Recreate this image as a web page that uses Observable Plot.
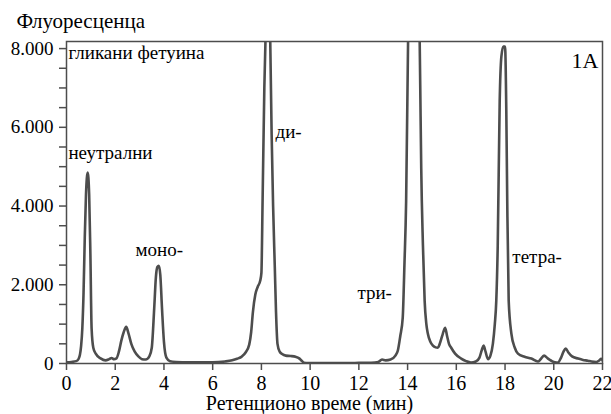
<!DOCTYPE html>
<html>
<head>
<meta charset="utf-8">
<script src="https://cdn.jsdelivr.net/npm/d3@7"></script>
<script src="https://cdn.jsdelivr.net/npm/@observablehq/plot@0.6"></script>
</head>
<body style="margin:0;padding:0;background:#fff">
<div id="chart"></div>
<script>
// Retention time (min)
const time = [
  0, 0.2, 0.4, 0.5, 0.6, 0.65, 0.7, 0.75, 0.8, 0.87, 0.93, 0.98, 1.03, 1.1, 1.2, 1.4, 1.6, 1.75, 1.85, 1.95,
  2.05, 2.15, 2.25, 2.35, 2.45, 2.55, 2.66, 2.8, 2.95, 3.1, 3.25, 3.4, 3.5, 3.6, 3.67, 3.73, 3.79, 3.85, 3.92, 4.0,
  4.1, 4.25, 4.5, 5, 5.5, 6, 6.5, 6.8, 7.0, 7.2, 7.35, 7.5, 7.58, 7.65, 7.75, 7.85, 7.95, 8.0, 8.05, 8.12,
  8.2, 8.29, 8.36, 8.42, 8.48, 8.55, 8.6, 8.66, 8.75, 8.85, 9.0, 9.2, 9.4, 9.55, 9.65, 9.75, 9.9, 10.5, 11, 11.5,
  12, 12.5, 12.8, 12.95, 13.1, 13.3, 13.5, 13.6, 13.7, 13.8, 13.87, 13.94, 14.02, 14.1, 14.25, 14.4, 14.47, 14.52, 14.56, 14.63,
  14.7, 14.77, 14.83, 14.93, 15.04, 15.15, 15.24, 15.32, 15.42, 15.54, 15.62, 15.7, 15.79, 15.95, 16.2, 16.4, 16.6, 16.8, 16.95, 17.05,
  17.12, 17.2, 17.3, 17.4, 17.5, 17.58, 17.64, 17.7, 17.78, 17.85, 17.93, 18.0, 18.05, 18.09, 18.15, 18.26, 18.4, 18.53, 18.8, 19.08,
  19.35, 19.45, 19.6, 19.75, 19.9, 20.05, 20.17, 20.3, 20.4, 20.49, 20.6, 20.75, 21.0, 21.2, 21.4, 21.55, 21.75, 21.85, 21.95, 22.0
];
// Fluorescence signal
const fluor = [
  30, 40, 60, 120, 450, 900, 1800, 3200, 4300, 4850, 4300, 2800, 900, 400, 250, 130, 80, 110, 140, 110,
  130, 300, 580, 800, 930, 750, 500, 300, 180, 110, 100, 180, 400, 1400, 2200, 2450, 2480, 2250, 1400, 550,
  150, 60, 40, 30, 30, 30, 50, 80, 120, 180, 280, 480, 800, 1300, 1750, 1950, 2100, 2300, 4200, 7000,
  9000, 12000, 8300, 5820, 4000, 2440, 1300, 500, 300, 240, 200, 190, 170, 130, 70, 20, 10, 10, 10, 10,
  15, 20, 40, 100, 80, 100, 200, 330, 700, 1160, 2500, 4120, 8200, 11000, 13500, 12500, 9500, 7000, 4960, 3000,
  1590, 1000, 760, 560, 455, 410, 400, 500, 700, 910, 700, 500, 400, 250, 125, 60, 25, 50, 150, 350,
  455, 300, 110, 200, 500, 1000, 1590, 3000, 6650, 7800, 8050, 8050, 6500, 4120, 1590, 760, 400, 250, 170, 125,
  50, 100, 200, 130, 70, 30, 25, 150, 300, 380, 280, 180, 125, 90, 70, 50, 40, 70, 120, 80
];
const xTicks = [0, 2, 4, 6, 8, 10, 12, 14, 16, 18, 20, 22];
const yTicks = [0, 500, 1000, 1500, 2000, 2500, 3000, 3500, 4000, 4500, 5000, 5500, 6000, 6500, 7000, 7500, 8000];
const yLabelTicks = [0, 2000, 4000, 6000, 8000];

// Peak annotations (in data coordinates)
const peakLabels = ["гликани фетуина", "неутрални", "моно-", "ди-", "три-", "тетра-"];
const peakLabelT = [0.08, 0.08, 2.83, 8.58, 11.94, 18.3];
const peakLabelV = [7747, 5207, 2743, 5740, 1651, 2565];
const panelLabel = "1А";
const yTitle = "Флуоресценца";
const xTitle = "Ретенционо време (мин)";

const rows = time.map((t, i) => ({t, v: fluor[i]}));
const annos = peakLabels.map((s, i) => ({s, t: peakLabelT[i], v: peakLabelV[i]}));
const fmt = d => d === 0 ? "0" : d3.format(",")(d).replace(/,/g, ".");

const FONT = "Liberation Serif";
const ink = "#4d4d4d";
const chart = Plot.plot({
  width: 611,
  height: 414,
  marginLeft: 66,
  marginRight: 9,
  marginTop: 41,
  marginBottom: 51,
  style: {fontFamily: FONT, fontSize: "19px", color: "#000", background: "#fff"},
  x: {domain: [0, 22]},
  y: {domain: [0, 8180]},
  marks: [
    Plot.axisX({ticks: xTicks, tickSize: 7, tickPadding: 5, fontSize: 20, fontFamily: FONT, label: null, stroke: ink, strokeWidth: 1.5, tickFormat: d => String(d)}),
    Plot.axisY({ticks: yTicks, tickSize: 7, tickPadding: 6, fontSize: 19, fontFamily: FONT, label: null, stroke: ink, strokeWidth: 1.5,
      tickFormat: d => yLabelTicks.includes(d) ? fmt(d) : ""}),
    Plot.frame({stroke: ink, strokeWidth: 1.5}),
    Plot.line(rows, {x: "t", y: "v", stroke: ink, strokeWidth: 2.6, curve: "monotone-x", clip: true}),
    Plot.text(annos, {x: "t", y: "v", text: "s", textAnchor: "start", lineAnchor: "bottom", fontSize: 19, fontFamily: FONT, fill: "#000"}),
    Plot.text([panelLabel], {frameAnchor: "top-right", text: d => d, textAnchor: "end", lineAnchor: "bottom", dx: -4, dy: 26, fontSize: 22, fontFamily: FONT, fill: "#000"}),
    Plot.text([yTitle], {frameAnchor: "top-left", text: d => d, textAnchor: "start", lineAnchor: "bottom", dx: -50, dy: -14, fontSize: 21, fontFamily: FONT, fill: "#000"}),
    Plot.text([xTitle], {frameAnchor: "bottom", text: d => d, textAnchor: "middle", lineAnchor: "bottom", dx: -25, dy: 46, fontSize: 20, fontFamily: FONT, fill: "#000"})
  ]
});
// embed a font rule inside the SVG itself so it travels with the drawing
const styleEl = document.createElementNS("http://www.w3.org/2000/svg", "style");
styleEl.textContent = "text { font-family: 'Liberation Serif', 'Times New Roman', serif !important; }";
chart.insertBefore(styleEl, chart.firstChild);
chart.setAttribute("font-family", FONT);
chart.querySelectorAll("text").forEach(el => el.setAttribute("font-family", FONT));
document.getElementById("chart").appendChild(chart);
</script>
</body>
</html>
